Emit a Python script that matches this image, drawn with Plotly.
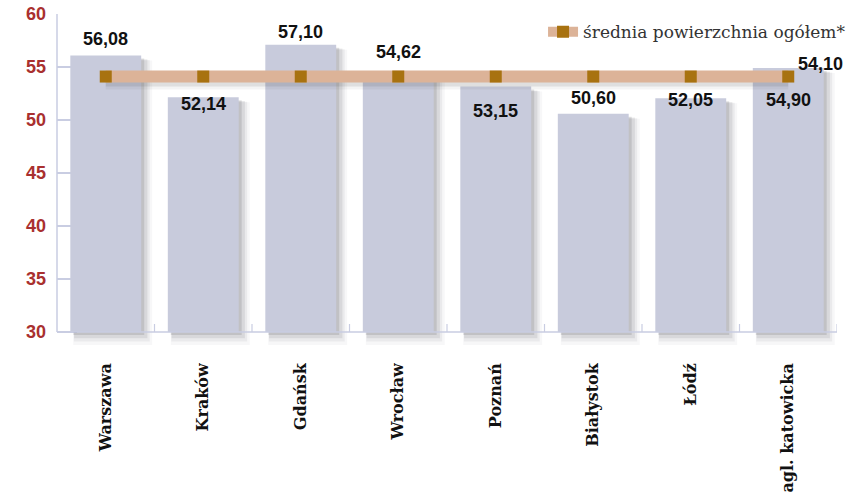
import plotly.graph_objects as go

# --- data -------------------------------------------------------------
cities = ["Warszawa", "Kraków", "Gdańsk", "Wrocław", "Poznań",
          "Białystok", "Łódź", "agl. katowicka"]
area = [56.08, 52.14, 57.10, 54.62, 53.15, 50.60, 52.05, 54.90]
avg_area = [54.10, 54.10, 54.10, 54.10, 54.10, 54.10, 54.10, 54.10]
avg_name = "średnia powierzchnia ogółem*"
y_ticks = [30, 35, 40, 45, 50, 55, 60]

# --- geometry / style -------------------------------------------------
W, H = 861, 497
ML, MR, MT = 57, 24, 14
Y_TOP, Y_BASE = 60, 30
PX_PER_Y = 10.6                      # pixels per unit on the value axis
PLOT_H = 337
MB = H - MT - PLOT_H
PLOT_W = W - ML - MR
PX_PER_CAT = PLOT_W / len(cities)
y_min = Y_TOP - PLOT_H / PX_PER_Y

BAR_W = 0.727
BAR_COLOR = "#c8cbdc"
AXIS_COLOR = "#c9cde2"
LINE_COLOR = "#dcb398"
MARK_COLOR = "#a87210"
TICK_RED = "#a9302f"

def cx(px):
    return px / PX_PER_CAT

def cy(px):
    return px / PX_PER_Y

fig = go.Figure()

# soft drop shadow behind the bars (several faint, growing layers)
for dx, dy, spread, alpha in [(7, 9, 4, 0.035), (6, 7, 2.5, 0.06),
                              (5, 5, 1.2, 0.09), (3, 3, 0, 0.13)]:
    fig.add_trace(go.Bar(
        x=cities,
        y=[v - Y_BASE + 2 * cy(spread) for v in area],
        base=Y_BASE - cy(dy) - cy(spread),
        width=BAR_W + 2 * cx(spread),
        offset=-BAR_W / 2 + cx(dx) - cx(spread),
        marker=dict(color=f"rgba(40,40,50,{alpha})", line=dict(width=0)),
        hoverinfo="skip", showlegend=False,
    ))

# the bars
fig.add_trace(go.Bar(
    x=cities,
    y=[v - Y_BASE for v in area],
    base=Y_BASE,
    width=BAR_W,
    offset=-BAR_W / 2,
    marker=dict(color=BAR_COLOR, line=dict(width=0)),
    showlegend=False,
))

# shadow under the average line
for dy, lw, alpha in [(5, 16, 0.05), (4, 12, 0.10)]:
    fig.add_trace(go.Scatter(
        x=cities, y=[v - cy(dy) for v in avg_area],
        mode="lines", line=dict(color=f"rgba(40,40,40,{alpha})", width=lw),
        hoverinfo="skip", showlegend=False,
    ))

# average line with square markers
fig.add_trace(go.Scatter(
    x=cities, y=avg_area, name=avg_name,
    mode="lines+markers",
    line=dict(color=LINE_COLOR, width=12),
    marker=dict(symbol="square", size=12, color=MARK_COLOR,
                line=dict(width=0)),
))

# value labels above / inside the bars
label_shift = {"Warszawa": 17, "Kraków": -7, "Gdańsk": 13, "Wrocław": 19,
               "Poznań": -24, "Białystok": 16, "Łódź": -2,
               "agl. katowicka": -32}
label_font = dict(family="Liberation Sans", size=18, color="#111111",
                  weight="bold")
annotations = []
for c, v in zip(cities, area):
    annotations.append(dict(
        x=c, y=v, xref="x", yref="y", text=f"{v:.2f}".replace(".", ","),
        showarrow=False, yanchor="middle", yshift=label_shift[c],
        font=label_font,
    ))
annotations.append(dict(
    x=cities[-1], y=avg_area[-1], xref="x", yref="y",
    text=f"{avg_area[-1]:.2f}".replace(".", ","),
    showarrow=False, yanchor="middle", xshift=32, yshift=13,
    font=label_font,
))

# axis lines and category separator ticks
shapes = [
    dict(type="line", xref="paper", yref="y", x0=0, x1=0,
         y0=Y_BASE, y1=Y_TOP, line=dict(color=AXIS_COLOR, width=1.5)),
    dict(type="line", xref="paper", yref="y", x0=0, x1=1,
         y0=Y_BASE, y1=Y_BASE, line=dict(color=AXIS_COLOR, width=1.5)),
]
for k in range(1, len(cities) + 1):
    shapes.append(dict(type="line", xref="x", yref="y",
                       x0=k - 0.5, x1=k - 0.5,
                       y0=Y_BASE, y1=Y_BASE + cy(8),
                       line=dict(color=AXIS_COLOR, width=1.2)))

fig.update_layout(
    width=W, height=H,
    margin=dict(l=ML, r=MR, t=MT, b=MB, pad=0, autoexpand=False),
    paper_bgcolor="white", plot_bgcolor="white",
    barmode="overlay",
    showlegend=True,
    legend=dict(x=1.018, xanchor="right", y=0.946, yanchor="middle",
                bgcolor="rgba(0,0,0,0)",
                font=dict(family="DejaVu Serif", size=17, color="#333333")),
    annotations=annotations,
    shapes=shapes,
    xaxis=dict(
        type="category", range=[-0.5, len(cities) - 0.5],
        automargin=False,
        showline=False, showgrid=False, zeroline=False, ticks="",
        tickangle=-90, ticklabelstandoff=8,
        tickfont=dict(family="DejaVu Serif", size=16, color="#111111",
                      weight="bold"),
    ),
    yaxis=dict(
        range=[y_min, Y_TOP], tickvals=y_ticks, automargin=False,
        showline=False, showgrid=False, zeroline=False,
        ticks="inside", ticklen=20, tickwidth=1.5, tickcolor=AXIS_COLOR,
        ticklabelstandoff=10, layer="below traces",
        tickfont=dict(family="Liberation Sans", size=18, color=TICK_RED,
                      weight="bold"),
    ),
)

fig.write_html("out.html")
